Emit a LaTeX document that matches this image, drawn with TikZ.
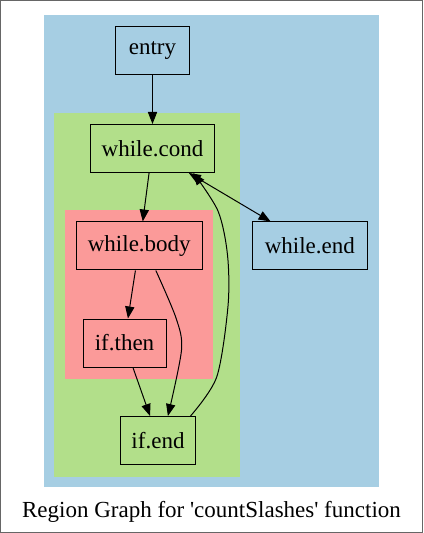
\documentclass[tikz,border=0pt]{standalone}
\usepackage{fontspec}
\setmainfont{Liberation Serif}
\usetikzlibrary{arrows.meta}
\definecolor{regblue}{HTML}{A6CEE3}
\definecolor{reggreen}{HTML}{B2DF8A}
\definecolor{regred}{HTML}{FB9A99}

\begin{document}
\begin{tikzpicture}[x=0.5pt,y=-0.5pt,
	blk/.style={draw,line width=0.5pt,minimum height=24pt,inner sep=0pt,
	   font=\fontsize{11.5}{14}\selectfont},
	edge/.style={line width=0.5pt,-{Triangle[length=6pt,width=4.6pt]}}]
	\useasboundingbox (0,0) rectangle (423,533);
	\draw[black!60,line width=0.5pt] (0.5,0.5) rectangle (422.5,532.5);

	% regions
	\fill[regblue] (44,15.3) rectangle (378.7,486.8);
	\fill[reggreen] (54.3,112.9) rectangle (239.7,476.6);
	\fill[regred] (65.3,210) rectangle (213,379);

	\node[blk,fill=regblue,minimum width=36.8pt] (entry) at (152.5,51) {entry};
	\node[blk,fill=reggreen,minimum width=62.2pt] (wcond) at (152.5,148.5) {while.cond};
	\node[blk,fill=regred,minimum width=63pt] (wbody) at (139.3,246) {while.body};
	\node[blk,fill=regblue,minimum width=57.5pt] (wend) at (309.8,246) {while.end};
	\node[blk,fill=regred,minimum width=41.5pt] (ifthen) at (124.5,343) {if.then};
	\node[blk,fill=reggreen,minimum width=37.3pt] (ifend) at (158,440.5) {if.end};

	\draw[edge] (entry) -- (wcond);
	\draw[edge] (wcond.-98) -- (wbody.82);
	\draw[edge,{Triangle[length=6pt,width=4.6pt]}-{Triangle[length=6pt,width=4.6pt]}]
	   (wcond.-34) -- (wend.148);
	\draw[edge] (wbody.-99) -- (ifthen.82);
	\draw[edge] plot[smooth]
	   coordinates {(wbody.-56) (176,318) (181.5,350) (ifend.68)};
	\draw[edge] (ifthen.-71) -- (ifend.108);
	\draw[edge] plot[smooth]
	   coordinates {(ifend.37) (216.7,377) (228,306) (227.5,255) (218,211) (wcond.-31)};

	\node (title) at (211.5,511.6) {\fontsize{11.5}{14}\selectfont Region Graph for
	   \textquotesingle countSlashes\textquotesingle{} function};
\end{tikzpicture}
\end{document}
